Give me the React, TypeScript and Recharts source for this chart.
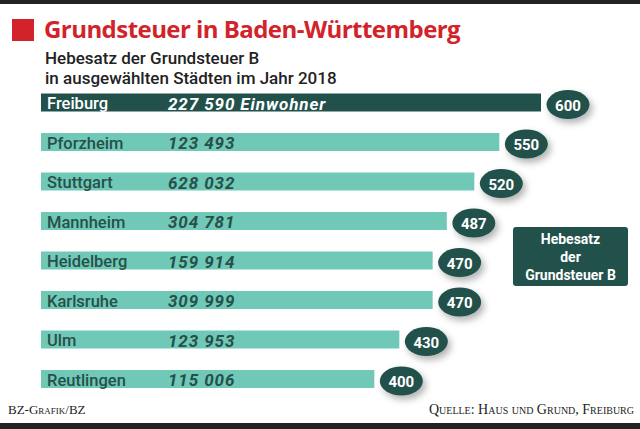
import { Bar, BarChart, Cell, LabelList, XAxis, YAxis } from "recharts"

const cities = ["Freiburg", "Pforzheim", "Stuttgart", "Mannheim", "Heidelberg", "Karlsruhe", "Ulm", "Reutlingen"]
const hebesatz = [600, 550, 520, 487, 470, 470, 430, 400]
const einwohner = [227590, 123493, 628032, 304781, 159914, 309999, 123953, 115006]
const legendLines = ["Hebesatz", "der", "Grundsteuer B"]

const data = cities.map((name, i) => ({ name, value: hebesatz[i], pop: einwohner[i] }))

const DARK = "#22514c"
const LIGHT = "#70c9b7"
const LABEL_FONT = "Roboto, sans-serif"

const fmt = (n: number) => String(n).replace(/\B(?=(\d{3})+(?!\d))/g, " ")

function NameLabel(props: any) {
    const { x, y, height, index } = props
    return (
        <text
            x={x + 6}
            y={y + height / 2 + 1}
            dominantBaseline="central"
            fill={index === 0 ? "#fff" : "#27504a"}
            fontFamily={LABEL_FONT}
            fontWeight={500}
            fontSize={16.5}
        >
            {cities[index]}
        </text>
    )
}

function PopLabel(props: any) {
    const { x, y, height, index } = props
    return (
        <text
            x={x + 127}
            y={y + height / 2 + 1}
            dominantBaseline="central"
            fill={index === 0 ? "#fff" : "#27504a"}
            fontFamily={LABEL_FONT}
            fontWeight={700}
            fontStyle="italic"
            fontSize={17}
            letterSpacing={0.9}
        >
            {fmt(einwohner[index]) + (index === 0 ? " Einwohner" : "")}
        </text>
    )
}

function ValueBubble(props: any) {
    const { x, y, width, height, value } = props
    const cx = x + width + 27
    const cy = y + height / 2 + 2
    return (
        <g>
            <ellipse cx={cx} cy={cy} rx={21.5} ry={14.5} fill={DARK} filter="url(#bubbleShadow)" />
            <text
                x={cx}
                y={cy + 1}
                textAnchor="middle"
                dominantBaseline="central"
                fill="#fff"
                fontFamily={LABEL_FONT}
                fontWeight={700}
                fontSize={15}
            >
                {value}
            </text>
        </g>
    )
}

const footerStyle = {
    position: "absolute" as const,
    top: 402,
    fontFamily: "'Liberation Serif', serif",
    fontVariant: "small-caps",
    fontSize: 13,
    color: "#222",
    whiteSpace: "nowrap" as const,
}

export default function App() {
    return (
        <div style={{ position: "absolute", left: 0, top: 0, width: 640, height: 429, background: "#fff", overflow: "hidden" }}>
            <div style={{ position: "absolute", left: 0, top: 0, width: 640, height: 4, background: "#222" }} />
            <div style={{ position: "absolute", left: 12, top: 19, width: 22, height: 22, background: "#d3232a" }} />
            <div
                style={{
                    position: "absolute",
                    left: 44,
                    top: 12,
                    fontFamily: "'Open Sans', sans-serif",
                    fontWeight: 700,
                    fontSize: 24,
                    letterSpacing: -0.55,
                    color: "#d3232a",
                    lineHeight: "34px",
                    whiteSpace: "nowrap",
                }}
            >
                Grundsteuer in Baden-Württemberg
            </div>
            <div
                style={{
                    position: "absolute",
                    left: 45,
                    top: 48,
                    fontFamily: LABEL_FONT,
                    fontWeight: 500,
                    fontSize: 17,
                    color: "#222",
                    lineHeight: "20px",
                    whiteSpace: "nowrap",
                }}
            >
                Hebesatz der Grundsteuer B
                <br />
                in ausgewählten Städten im Jahr 2018
            </div>
            <BarChart
                width={640}
                height={429}
                data={data}
                layout="vertical"
                margin={{ top: 82.5, right: 99, bottom: 30.5, left: 41 }}
                barSize={18}
            >
                <defs>
                    <filter id="bubbleShadow" x="-50%" y="-50%" width="200%" height="200%">
                        <feDropShadow dx={3} dy={4} stdDeviation={3.5} floodColor="#000" floodOpacity={0.3} />
                    </filter>
                </defs>
                <XAxis type="number" domain={[0, 600]} hide />
                <YAxis type="category" dataKey="name" hide />
                <Bar dataKey="value" isAnimationActive={false}>
                    {data.map((d, i) => (
                        <Cell key={d.name} fill={i === 0 ? DARK : LIGHT} />
                    ))}
                    <LabelList dataKey="name" content={<NameLabel />} />
                    <LabelList dataKey="pop" content={<PopLabel />} />
                    <LabelList dataKey="value" content={<ValueBubble />} />
                </Bar>
            </BarChart>
            <div
                style={{
                    position: "absolute",
                    left: 513,
                    top: 227,
                    width: 115,
                    height: 59,
                    background: DARK,
                    borderRadius: 3,
                    color: "#fff",
                    fontFamily: LABEL_FONT,
                    fontWeight: 700,
                    fontSize: 14,
                    lineHeight: "18px",
                    textAlign: "center",
                    paddingTop: 3,
                    boxSizing: "border-box",
                }}
            >
                {legendLines.map((l) => (
                    <div key={l}>{l}</div>
                ))}
            </div>
            <div style={{ ...footerStyle, left: 8 }}>BZ-Grafik/BZ</div>
            <div style={{ ...footerStyle, right: 6, fontSize: 14 }}>Quelle: Haus und Grund, Freiburg</div>
            <div style={{ position: "absolute", left: 0, top: 423, width: 640, height: 6, background: "#222" }} />
        </div>
    )
}
